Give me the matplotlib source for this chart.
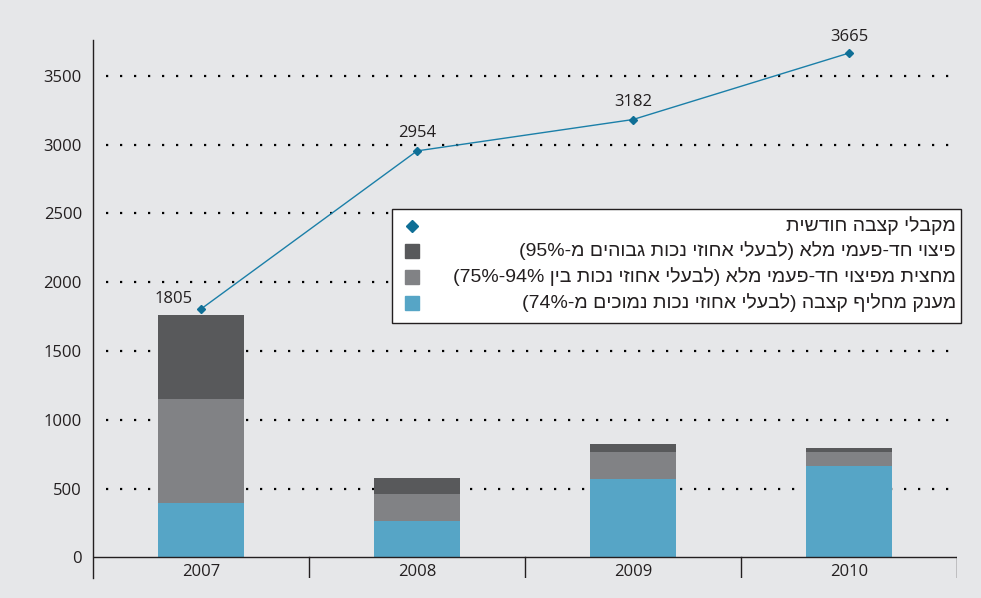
import re
import matplotlib
matplotlib.use("Agg")
import matplotlib.pyplot as plt
from matplotlib.patches import Rectangle
from matplotlib.lines import Line2D

plt.rcParams['font.family'] = ['Open Sans', 'DejaVu Sans']

years = ['2007', '2008', '2009', '2010']
grant_low = [392, 264, 569, 663]        # blue
half_comp = [762, 196, 196, 102]        # mid grey
full_comp = [610, 116, 58, 29]          # dark grey
monthly = [1805, 2954, 3182, 3665]      # line
yticks = [0, 500, 1000, 1500, 2000, 2500, 3000, 3500]

legend_labels = [
    'מקבלי קצבה חודשית',
    'פיצוי חד-פעמי מלא (לבעלי אחוזי נכות גבוהים מ-95%)',
    'מחצית מפיצוי חד-פעמי מלא (לבעלי אחוזי נכות בין 75%-94%)',
    'מענק מחליף קצבה (לבעלי אחוזי נכות נמוכים מ-74%)',
]

def visual(s):
    r = s[::-1]
    r = r.translate(str.maketrans('()', ')('))
    r = re.sub(r'[0-9%]+(?:-[0-9%]+)*', lambda m: m.group(0)[::-1], r)
    return r

BG = '#e6e7e9'
C_BLUE = '#56a5c6'
C_MID = '#818285'
C_DARK = '#58595b'
C_LINE = '#1b7fa8'
C_MARK = '#0f6f96'
TXT = '#231f20'
FS = 12

fig = plt.figure(figsize=(9.81, 5.98), dpi=100, facecolor=BG)
ax = fig.add_axes([93/981, 1-578/598, (957-93)/981, (578-40)/598])
ax.set_facecolor(BG)

x = list(range(len(years)))
bw = 0.40
ax.bar(x, grant_low, bw, color=C_BLUE, zorder=3)
b2 = [a for a in grant_low]
ax.bar(x, half_comp, bw, bottom=b2, color=C_MID, zorder=3)
b3 = [a + b for a, b in zip(grant_low, half_comp)]
ax.bar(x, full_comp, bw, bottom=b3, color=C_DARK, zorder=3)

ax.plot(x, monthly, color=C_LINE, lw=1.0, marker='D', ms=4.3,
        mfc=C_MARK, mec=C_MARK, zorder=5)
offsets = [(-27, 10), (0, 18), (0, 18), (0, 16)]
for xi, v, off in zip(x, monthly, offsets):
    ax.annotate(str(v), (xi, v), xytext=off, textcoords='offset pixels',
                ha='center', va='center', fontsize=FS, color=TXT, zorder=6,
                annotation_clip=False)

ax.set_xlim(-0.5, 3.5)
ax.set_ylim(-150, 3760)
for s in ['top', 'right', 'bottom']:
    ax.spines[s].set_visible(False)
ax.spines['left'].set_color(TXT)
ax.spines['left'].set_linewidth(1.0)

ax.hlines([t for t in yticks if t > 0], -0.44, 3.5, colors='black',
          linestyles=(0, (1, 5.3)), linewidth=1.6, zorder=1)
ax.axhline(0, color=TXT, lw=1.0, zorder=4)
for d in [0.5, 1.5, 2.5, 3.5]:
    ax.plot([d, d], [-150, 0], color=TXT, lw=1.0, zorder=4)

ax.set_yticks(yticks)
ax.set_yticklabels([str(t) for t in yticks])
ax.tick_params(axis='y', length=0, pad=8, labelsize=FS, labelcolor=TXT)
ax.set_xticks([])
for xi, y in zip(x, years):
    ax.text(xi, -108, y, ha='center', va='center', fontsize=FS, color=TXT)

# Legend drawn manually (right-to-left layout)
lx0, lx1, ly0, ly1 = 391.5, 961, 209, 322.5
fig.patches.append(Rectangle((lx0/981, 1-ly1/598), (lx1-lx0)/981, (ly1-ly0)/598,
                             transform=fig.transFigure, facecolor='white',
                             edgecolor=TXT, lw=1.0, zorder=10))
rows = [226, 251, 277, 303]
handles = [('D', C_MARK, 6.6), ('s', C_DARK, 10), ('s', C_MID, 10), ('s', C_BLUE, 10)]
for ry, (m, c, ms), lab in zip(rows, handles, legend_labels):
    fig.add_artist(Line2D([412/981], [1-ry/598], marker=m, ms=ms, color=c,
                          mec=c, linestyle='none', transform=fig.transFigure, zorder=11))
    fig.text(956/981, 1-ry/598, visual(lab), ha='right', va='center',
             fontsize=14, color=TXT, zorder=11,
             family=['Liberation Sans', 'DejaVu Sans'])

fig.savefig('out.png', dpi=100, facecolor=BG)
